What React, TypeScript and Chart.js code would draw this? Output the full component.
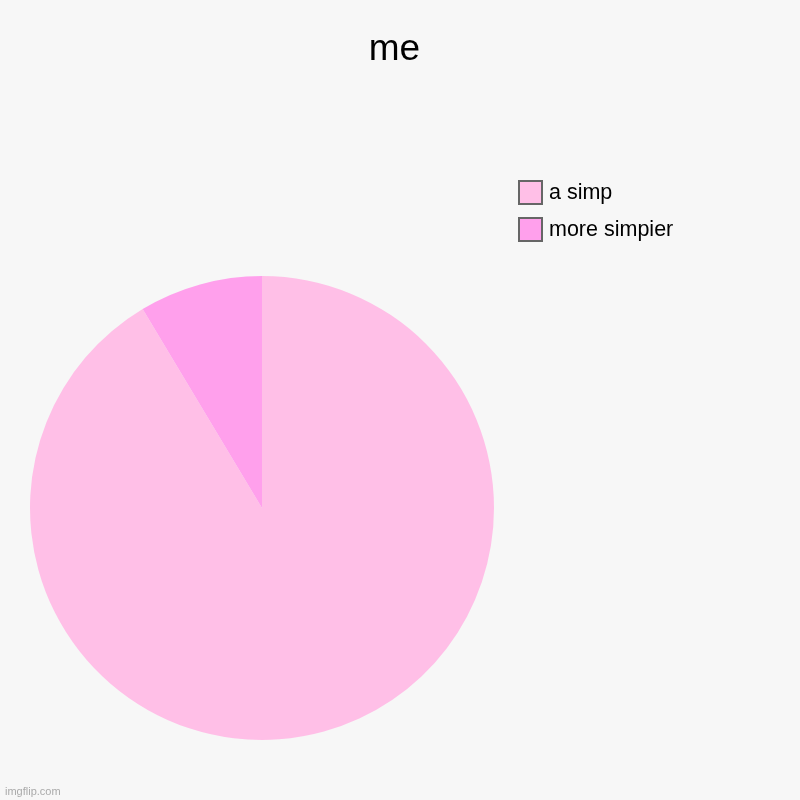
import { useEffect, useRef } from 'react';
import { Chart, ChartConfiguration, Plugin, registerables } from 'chart.js';

Chart.register(...registerables);

const categories = ['a simp', 'more simpier'];
const values = [91.4, 8.6];
const colors = ['#ffbfe7', '#ffa0ec'];
const chartTitle = 'me';

const FONT = '"Liberation Sans", Arial, sans-serif';

// title, legend and watermark laid out like the reference
const decorations: Plugin<'pie'> = {
  id: 'decorations',
  afterDraw(chart) {
    const ctx = chart.ctx;
    const ds = chart.data.datasets[0];
    const bg = ds.backgroundColor as string[];
    ctx.save();

    ctx.font = `37px ${FONT}`;
    ctx.fillStyle = '#000000';
    ctx.textAlign = 'center';
    ctx.textBaseline = 'alphabetic';
    ctx.fillText(chartTitle, 394.5, 60);

    ctx.font = `21.5px ${FONT}`;
    ctx.textBaseline = 'middle';
    ctx.textAlign = 'left';
    (chart.data.labels as string[]).forEach((label, i) => {
      const y = 181 + i * 37;
      ctx.fillStyle = bg[i];
      ctx.fillRect(519, y, 23, 23);
      ctx.strokeStyle = '#666666';
      ctx.lineWidth = 2;
      ctx.strokeRect(519, y, 23, 23);
      ctx.fillStyle = '#000000';
      ctx.fillText(label, 549, y + 12.5);
    });

    ctx.font = `11px ${FONT}`;
    ctx.fillStyle = '#aaaaaa';
    ctx.textBaseline = 'alphabetic';
    ctx.fillText('imgflip.com', 5, 795);
    ctx.restore();
  },
};

const background: Plugin<'pie'> = {
  id: 'background',
  beforeDraw(chart) {
    const ctx = chart.ctx;
    ctx.save();
    ctx.fillStyle = '#f7f7f7';
    ctx.fillRect(0, 0, chart.width, chart.height);
    ctx.restore();
  },
};

export default function App() {
  const chartRef = useRef<HTMLCanvasElement>(null);
  const chartInstance = useRef<Chart | null>(null);

  useEffect(() => {
    document.body.style.margin = '0';
    if (!chartRef.current) return;

    if (chartInstance.current) {
      chartInstance.current.destroy();
    }

    const config: ChartConfiguration<'pie'> = {
      type: 'pie',
      data: {
        labels: categories,
        datasets: [
          {
            data: values,
            backgroundColor: colors,
            borderWidth: 0,
          },
        ],
      },
      options: {
        responsive: false,
        animation: false,
        layout: {
          padding: { left: 30, right: 306, top: 276, bottom: 60 },
        },
        plugins: {
          legend: { display: false },
          tooltip: { enabled: false },
          title: { display: false },
        },
      },
      plugins: [background, decorations],
    };

    chartInstance.current = new Chart(chartRef.current, config);

    return () => {
      if (chartInstance.current) {
        chartInstance.current.destroy();
        chartInstance.current = null;
      }
    };
  }, []);

  return (
    <div style={{ width: 800, height: 800 }}>
      <canvas ref={chartRef} width={800} height={800} />
    </div>
  );
}
